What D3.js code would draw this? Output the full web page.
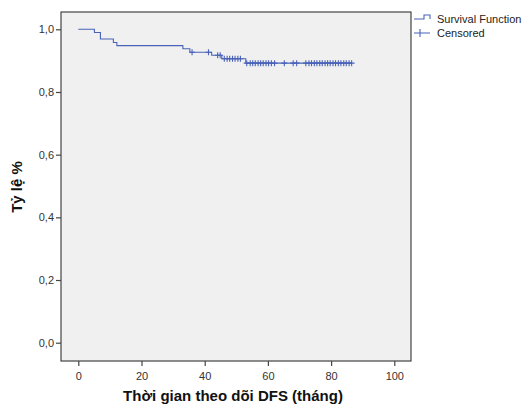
<!DOCTYPE html>
<html>
<head>
<meta charset="utf-8">
<script src="https://cdn.jsdelivr.net/npm/d3@7"></script>
<style>
    body { margin: 0; background: #fff; }
    text { font-family: Arial, "Liberation Sans", sans-serif; }
</style>
</head>
<body>
<svg id="chart" width="524" height="405"></svg>
<script>
// Kaplan-Meier data
const eventTimes    = [5.1, 7.0, 11.1, 12.2, 33.1, 35.3, 42.2, 45.4, 53.0];
const eventSurvival = [0.990, 0.969, 0.958, 0.948, 0.938, 0.927, 0.917, 0.906, 0.892];
const censoredTimes = [36.0, 41.2, 44.1, 44.9, 46.2, 47.1, 47.9, 48.8, 49.6, 50.5, 51.3,
    53.3, 54.4, 55.2, 56.0, 56.9, 57.7, 58.5, 59.4, 60.2, 61.1, 62.1, 65.2, 68.0, 69.1,
    72.0, 73.0, 73.8, 74.7, 75.5, 76.4, 77.2, 78.1, 78.9, 79.7, 80.6, 81.4, 82.3, 83.1,
    84.0, 84.8, 85.7, 86.5];
const lastTime = 86.5;
const xTicks = [0, 20, 40, 60, 80, 100];
const yTicks = [0, 0.2, 0.4, 0.6, 0.8, 1.0];
const legendLabels = ["Survival Function", "Censored"];
const xTitle = "Thời gian theo dõi DFS (tháng)";
const yTitle = "Tỷ lệ %";

const lineColor = "#4a63b9";
const frame = {left: 61, right: 411, top: 12, bottom: 361};

let svg = d3.select("#chart");

let x = d3.scaleLinear().domain([0, 100]).range([78.3, 394.3]);
let y = d3.scaleLinear().domain([0, 1]).range([342.7, 29.3]);

function survivalAt(t){
    let s = 1;
    eventTimes.forEach((et, i) => {
        if (et <= t) s = eventSurvival[i];
    });
    return s;
}

// plot background and frame
svg.append("rect")
    .attr("x", frame.left).attr("y", frame.top)
    .attr("width", frame.right - frame.left)
    .attr("height", frame.bottom - frame.top)
    .attr("fill", "#f0f0f0")
    .attr("stroke", "#444")
    .attr("stroke-width", 1.2);

// axes
let xAxis = d3.axisBottom(x).tickValues(xTicks).tickSize(5).tickSizeOuter(0)
    .tickFormat(d3.format("d"));
let gx = svg.append("g").attr("transform", `translate(0,${frame.bottom})`).call(xAxis);
gx.select(".domain").remove();

let yAxis = d3.axisLeft(y).tickValues(yTicks).tickSize(5).tickSizeOuter(0)
    .tickFormat(d => d3.format(".1f")(d).replace(".", ","));
let gy = svg.append("g").attr("transform", `translate(${frame.left},0)`).call(yAxis);
gy.select(".domain").remove();

svg.selectAll(".tick line").attr("stroke", "#444").attr("stroke-width", 1.2);
svg.selectAll(".tick text")
    .attr("fill", "#333")
    .style("font-family", "Arial, 'Liberation Sans', sans-serif")
    .style("font-size", "11px");
gx.selectAll(".tick text").attr("dy", "0.71em").attr("y", 11);
gy.selectAll(".tick text").attr("x", -7);

// survival step line
let points = [[0, 1]];
eventTimes.forEach((t, i) => points.push([t, eventSurvival[i]]));
points.push([lastTime, eventSurvival[eventSurvival.length - 1]]);

let line = d3.line()
    .x(d => x(d[0]))
    .y(d => y(d[1]))
    .curve(d3.curveStepAfter);

svg.append("path")
    .datum(points)
    .attr("d", line)
    .attr("fill", "none")
    .attr("stroke", lineColor)
    .attr("stroke-width", 1.1);

// censored marks
let cross = 3;
svg.append("g").selectAll("path")
    .data(censoredTimes)
    .join("path")
    .attr("d", d => {
        let cx = x(d), cy = y(survivalAt(d));
        return "M" + (cx - cross) + "," + cy + "H" + (cx + cross) +
            "M" + cx + "," + (cy - cross) + "V" + (cy + cross);
    })
    .attr("stroke", lineColor)
    .attr("stroke-width", 1.1)
    .attr("fill", "none");

// legend
let legend = svg.append("g").attr("transform", "translate(414,0)");
legend.append("path")
    .attr("d", "M0,19H10V15H16V19")
    .attr("fill", "none").attr("stroke", lineColor).attr("stroke-width", 1.1);
legend.append("path")
    .attr("d", "M0,33H16M6,29V37")
    .attr("fill", "none").attr("stroke", lineColor).attr("stroke-width", 1.1);
legend.selectAll("text")
    .data(legendLabels)
    .join("text")
    .attr("x", 23)
    .attr("y", (d, i) => 19 + i * 14)
    .attr("dy", "0.35em")
    .attr("fill", "#222")
    .style("font-size", "11px")
    .text(d => d);

// axis titles
svg.append("text")
    .attr("x", 233).attr("y", 401)
    .attr("text-anchor", "middle")
    .style("font-size", "15px").style("font-weight", "bold")
    .attr("fill", "#111")
    .text(xTitle);

svg.append("text")
    .attr("transform", "translate(22,187) rotate(-90)")
    .attr("text-anchor", "middle")
    .style("font-size", "15px").style("font-weight", "bold")
    .attr("fill", "#111")
    .text(yTitle);
</script>
</body>
</html>
